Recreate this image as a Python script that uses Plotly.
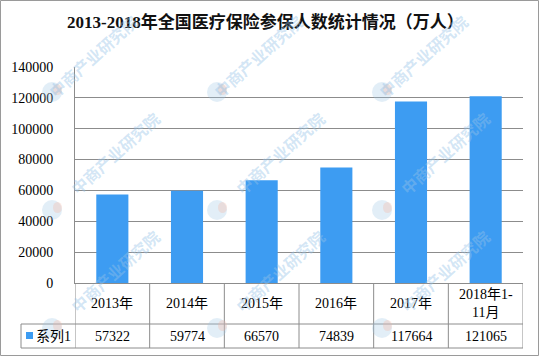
import plotly.graph_objects as go

# ---- data ----
categories = ["2013年", "2014年", "2015年", "2016年", "2017年", "2018年1-11月"]
category_labels = ["2013年", "2014年", "2015年", "2016年", "2017年", "2018年1-<br>11月"]
values = [57322, 59774, 66570, 74839, 117664, 121065]
series_name = "系列1"
y_ticks = [0, 20000, 40000, 60000, 80000, 100000, 120000, 140000]
title_text = "2013-2018年全国医疗保险参保人数统计情况（万人）"
watermark_text = "中商产业研究院"

# ---- geometry (pixels) ----
W, H = 539, 356
L, R, T, B = 75, 523, 67, 283
ROW1_B = 324   # bottom of category row
ROW2_B = 348   # bottom of value row
LEG_L = 21

def px(x):
    return (x - L) / (R - L)

def py(y):
    return (B - y) / (B - T)

FONT = "Liberation Serif, Noto Sans CJK SC, serif"
GRID = "#8c8c8c"
BAR = "#3d9cf2"

fig = go.Figure()
fig.add_trace(go.Bar(
    x=categories, y=values, name=series_name,
    marker=dict(color=BAR, line=dict(width=0)),
    width=0.43,
))

shapes = []
annotations = []

# table lines
line = dict(color=GRID, width=1)
n = len(categories)
for i in range(n + 1):
    shapes.append(dict(type="line", xref="x", yref="paper",
                       x0=i - 0.5, x1=i - 0.5, y0=py(B), y1=py(ROW2_B), line=line))
shapes.append(dict(type="line", xref="paper", yref="paper",
                   x0=px(LEG_L), x1=1, y0=py(ROW1_B), y1=py(ROW1_B), line=line))
shapes.append(dict(type="line", xref="paper", yref="paper",
                   x0=px(LEG_L), x1=1, y0=py(ROW2_B), y1=py(ROW2_B), line=line))
shapes.append(dict(type="line", xref="paper", yref="paper",
                   x0=px(LEG_L), x1=px(LEG_L), y0=py(ROW1_B), y1=py(ROW2_B), line=line))
# legend key
shapes.append(dict(type="rect", xref="paper", yref="paper",
                   x0=px(26), x1=px(33), y0=py(339), y1=py(332),
                   fillcolor=BAR, line=dict(width=0)))
# outer border
shapes.append(dict(type="rect", xref="paper", yref="paper",
                   x0=px(0.5), x1=px(W - 0.5), y0=py(H - 0.5), y1=py(0.5),
                   line=dict(color="#9a9a9a", width=1), layer="above"))

# table text
for c, lab, v in zip(categories, category_labels, values):
    annotations.append(dict(x=c, xref="x", y=py((B + ROW1_B) / 2), yref="paper",
                            text=lab, showarrow=False, xanchor="center", yanchor="middle",
                            font=dict(family=FONT, size=14, color="#000")))
    annotations.append(dict(x=c, xref="x", y=py((ROW1_B + ROW2_B) / 2), yref="paper",
                            text=str(v), showarrow=False, xanchor="center", yanchor="middle",
                            font=dict(family=FONT, size=14, color="#000")))
annotations.append(dict(x=px(34), xref="paper", y=py(336), yref="paper",
                        text=series_name, showarrow=False, xanchor="left", yanchor="middle",
                        font=dict(family=FONT, size=14, color="#000")))

# title
annotations.append(dict(x=px(265), xref="paper", y=py(22), yref="paper",
                        text="<b>" + title_text + "</b>", showarrow=False,
                        xanchor="center", yanchor="middle",
                        font=dict(family=FONT, size=17, color="#111")))

# watermarks
wm_color = "rgba(150,195,232,0.42)"
for X in [52, 217, 382]:
    for Y in [92, 210, 328]:
        cx, cy = X + 63, Y - 57
        if cy < 56:           # keep the top row inside the picture
            cx, cy = cx - 22, 56
        annotations.append(dict(x=px(cx), xref="paper", y=py(cy), yref="paper",
                                text="<b>" + watermark_text + "</b>", showarrow=False,
                                textangle=-42, xanchor="center", yanchor="middle",
                                borderpad=0,
                                font=dict(family="Noto Sans CJK SC", size=16, color=wm_color)))
        shapes.append(dict(type="circle", xref="paper", yref="paper",
                           x0=px(X - 10), x1=px(X + 10), y0=py(Y + 10), y1=py(Y - 10),
                           fillcolor="rgba(160,200,230,0.30)", line=dict(width=0), layer="above"))
        shapes.append(dict(type="circle", xref="paper", yref="paper",
                           x0=px(X + 1), x1=px(X + 10), y0=py(Y + 3), y1=py(Y - 8),
                           fillcolor="rgba(245,180,160,0.30)", line=dict(width=0), layer="above"))

fig.update_layout(
    width=W, height=H,
    margin=dict(l=L, r=W - R, t=T, b=H - B),
    paper_bgcolor="white", plot_bgcolor="white",
    showlegend=False,
    xaxis=dict(type="category", range=[-0.5, n - 0.5], showticklabels=False,
               showgrid=False, showline=True, linecolor=GRID, linewidth=1,
               ticks="", zeroline=False, fixedrange=True),
    yaxis=dict(range=[0, 140000], tickvals=y_ticks, ticktext=[str(t) for t in y_ticks],
               showgrid=True, gridcolor=GRID, gridwidth=1,
               showline=True, linecolor=GRID, linewidth=1,
               zeroline=False, ticks="", ticklabelstandoff=18,
               tickfont=dict(family=FONT, size=14, color="#000"), fixedrange=True),
    shapes=shapes,
    annotations=annotations,
)

fig.write_html("out.html", config={"displayModeBar": False},
               post_script="document.body.style.margin='0';document.body.style.padding='0';")
